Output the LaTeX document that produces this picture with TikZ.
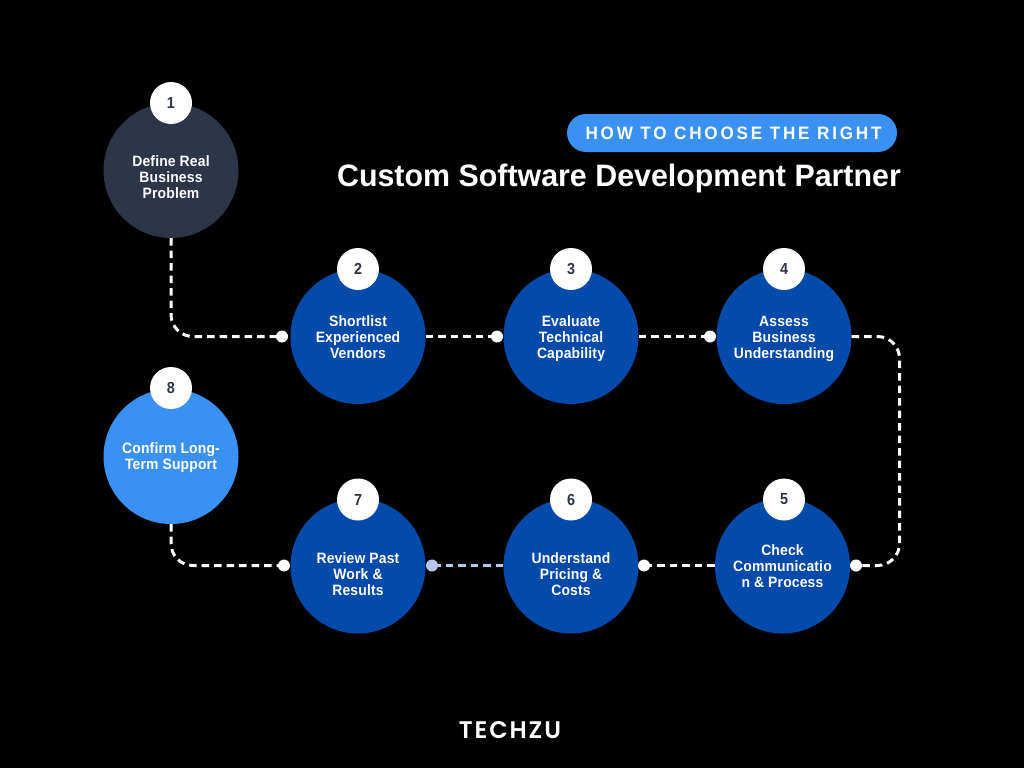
\documentclass[tikz,border=0pt]{standalone}
\usepackage{fontspec}
\setmainfont{Liberation Sans}
\newfontfamily\stepfont[LetterSpace=1.0,FakeStretch=0.93]{Liberation Sans Bold}
\newfontfamily\numfont[FakeStretch=0.9]{Liberation Sans Bold}
\newfontfamily\pillfont[LetterSpace=15.5,FakeStretch=0.95]{Liberation Sans Bold}
\newfontfamily\titlefont[FakeStretch=0.98]{Liberation Sans Bold}
\newfontfamily\logofont[LetterSpace=8]{Poppins SemiBold}
\definecolor{bgblack}{HTML}{000000}
\definecolor{slatestep}{HTML}{2D3648}
\definecolor{bluestep}{HTML}{034AAB}
\definecolor{skystep}{HTML}{3A91F2}
\definecolor{paleline}{HTML}{B7C8EA}
\tikzset{
  stepcircle/.style={circle,minimum size=135pt,inner sep=0pt,fill=bluestep},
  steptext/.style={text=white,align=center,inner sep=0pt,font=\stepfont\fontsize{15}{16}\selectfont,
    execute at end node={\rule[-4pt]{0pt}{4pt}}},
  badge/.style={circle,minimum size=42pt,inner sep=0pt,fill=white,text=slatestep,font=\numfont\fontsize{16}{16}\selectfont},
  linkdot/.style={circle,minimum size=12pt,inner sep=0pt,fill=white},
  link/.style={draw=white,line width=3pt,dash pattern=on 7.5pt off 5pt,rounded corners=22pt},
}
\begin{document}
\begin{tikzpicture}[x=1pt,y=-1pt]
\useasboundingbox (0,0) rectangle (1024,768);
\fill[bgblack] (0,0) rectangle (1024,768);

% step circles
\node[stepcircle,fill=slatestep] (c1) at (171,170.5) {};
\node[stepcircle] (c2) at (358,336.5) {};
\node[stepcircle] (c3) at (571,336.5) {};
\node[stepcircle] (c4) at (784,336.5) {};
\node[stepcircle] (c5) at (782.5,566) {};
\node[stepcircle] (c6) at (571,566) {};
\node[stepcircle] (c7) at (358,566) {};
\node[stepcircle,fill=skystep] (c8) at (171,456.5) {};

% step texts
\node[steptext] (t1) at (171,179.5) {Define Real\\Business\\Problem};
\node[steptext] (t2) at (358,339.5) {Shortlist\\Experienced\\Vendors};
\node[steptext] (t3) at (571,339.5) {Evaluate\\Technical\\Capability};
\node[steptext] (t4) at (784,339.5) {Assess\\Business\\Understanding};
\node[steptext] (t5) at (782.5,568) {Check\\Communicatio\\n \& Process};
\node[steptext] (t6) at (571,576) {Understand\\Pricing \&\\Costs};
\node[steptext] (t7) at (358,576) {Review Past\\Work \&\\Results};
\node[steptext] (t8) at (171,458.5) {Confirm Long-\\Term Support};

% connector end dots
\node[linkdot] (d2) at (282,336.5) {};
\node[linkdot] (d3) at (497,336.5) {};
\node[linkdot] (d4) at (710,336.5) {};
\node[linkdot] (d5) at (856,565.5) {};
\node[linkdot] (d6) at (644,565.5) {};
\node[linkdot,fill=paleline] (d7) at (432,565.5) {};
\node[linkdot] (d8) at (284,565.5) {};
\coordinate (rail) at (899.5,450);

% connectors
\draw[link] (c1.south) |- (d2.center);
\draw[link] (c2.east) -- (d3.center);
\draw[link] (c3.east) -- (d4.center);
\draw[link] (c4.east) -| (rail) |- (d5.center);
\draw[link] (c5.west |- d6) -- (d6.center);
\draw[link,draw=paleline] (c6.west |- d7) -- (d7.center);
\draw[link] (c8.south) |- (d8.center);

% number badges
\node[badge] (b1) at (171,103) {1};
\node[badge] (b2) at (358,269) {2};
\node[badge] (b3) at (571,269) {3};
\node[badge] (b4) at (784,269) {4};
\node[badge] (b5) at (784,499.5) {5};
\node[badge] (b6) at (571,499.5) {6};
\node[badge] (b7) at (358,499.5) {7};
\node[badge] (b8) at (171,388) {8};

% heading
\node[fill=skystep,rounded corners=19pt,minimum width=330pt,minimum height=38pt,inner sep=0pt] (pill) at (732,133) {};
\node[text=white,inner sep=0pt,font=\pillfont\fontsize{18}{20}\selectfont] (kicker) at (733.5,133) {HOW TO CHOOSE THE RIGHT};
\node[text=white,inner sep=0pt,font=\titlefont\fontsize{31}{36}\selectfont] (title) at (619,178) {Custom Software Development Partner};

% logo
\node[text=white,inner sep=0pt,font=\logofont\fontsize{24}{28}\selectfont] (logo) at (510,730.5) {TECHZU};
\end{tikzpicture}
\end{document}
